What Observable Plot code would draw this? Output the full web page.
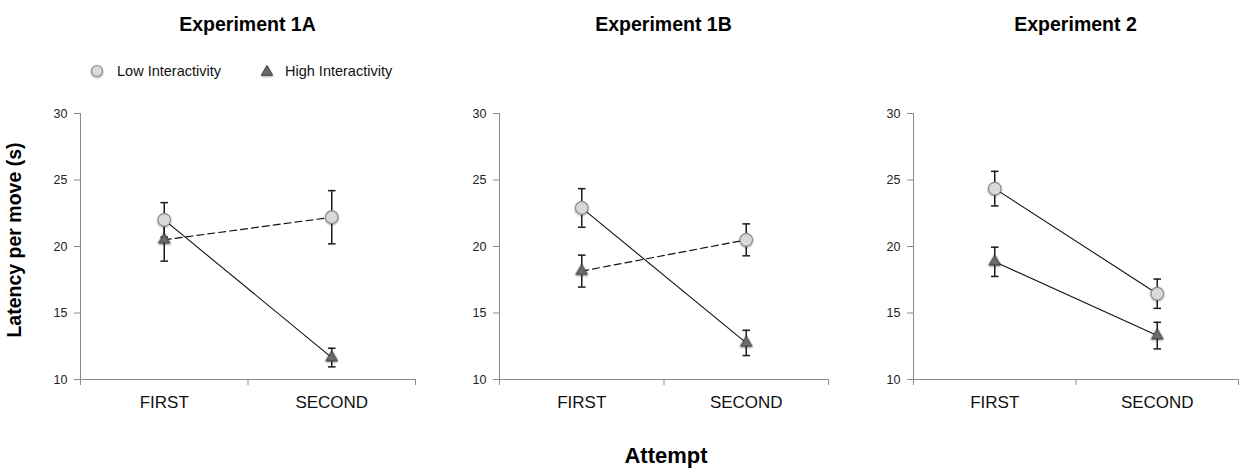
<!DOCTYPE html>
<html>
<head>
<meta charset="utf-8">
<script src="https://cdn.jsdelivr.net/npm/d3@7"></script>
<script src="https://cdn.jsdelivr.net/npm/@observablehq/plot@0.6"></script>
<style>
  body { margin: 0; background: #fff; font-family: "Liberation Sans", Arial, sans-serif; }
  #wrap { position: relative; width: 1239px; height: 470px; overflow: hidden; }
  .panel { position: absolute; top: 0; }
  .title { position: absolute; top: 14px; font-weight: bold; font-size: 19.5px; line-height: 20px;
           transform: translateX(-50%); white-space: nowrap; color: #000; }
  .ylab { position: absolute; left: 14px; top: 240px; font-weight: bold; font-size: 19.5px; line-height: 20px;
          transform: translate(-50%, -50%) rotate(-90deg); white-space: nowrap; }
  .xlab { position: absolute; left: 666px; top: 445px; font-weight: bold; font-size: 22px; line-height: 22px;
          transform: translateX(-50%); white-space: nowrap; }
  .leg { position: absolute; top: 63px; font-size: 14.5px; line-height: 16px; white-space: nowrap; color: #111; }
  .legicon { position: absolute; top: 62px; overflow: visible; }
</style>
</head>
<body>
<div id="wrap"></div>
<script>
// ---- data ----
const categories = ["FIRST", "SECOND"];
const experiments = ["Experiment 1A", "Experiment 1B", "Experiment 2"];
const groups = ["Low Interactivity", "High Interactivity"];
// means and error-bar half-lengths, [experiment][attempt]
const lowMean  = [[22.0, 22.2], [22.9, 20.5], [24.35, 16.45]];
const lowErr   = [[1.3, 2.0],   [1.45, 1.2],  [1.3, 1.1]];
const highMean = [[20.5, 11.65], [18.15, 12.75], [18.85, 13.3]];
const highErr  = [[1.6, 0.7],    [1.2, 0.95],    [1.1, 1.0]];
const yTicks = [10, 15, 20, 25, 30];
// connecting lines per experiment: [group at FIRST, group at SECOND, dashed?]
const connections = [
  [["Low", "High", false], ["High", "Low", true]],
  [["Low", "High", false], ["High", "Low", true]],
  [["Low", "Low", false], ["High", "High", false]]
];

// ---- layout ----
const layout = [
  {left: 0,   width: 420, ml: 80, mr: 5},
  {left: 420, width: 410, ml: 79, mr: 2},
  {left: 830, width: 409, ml: 83, mr: 1}
];
const AXIS = "#8a8a8a";
const capSymbol = { draw(ctx, size) { const w = 3.8; ctx.moveTo(-w, 0); ctx.lineTo(w, 0); } };
const triSymbol = { draw(ctx, size) {
  const s = Math.sqrt(size / Math.PI); const h = s * Math.sqrt(3);
  ctx.moveTo(0, -h * 2 / 3); ctx.lineTo(s, h / 3); ctx.lineTo(-s, h / 3); ctx.closePath(); } };

const wrap = document.getElementById("wrap");

experiments.forEach((name, p) => {
  const L = layout[p];
  const means = {Low: lowMean[p], High: highMean[p]};
  const errs = {Low: lowErr[p], High: highErr[p]};
  const rows = [];
  categories.forEach((c, i) => {
    ["Low", "High"].forEach(g => rows.push({group: g, cat: c, x: i + 0.5, y: means[g][i], e: errs[g][i]}));
  });
  const lineRows = [];
  connections[p].forEach(([g1, g2, dashed], k) => {
    lineRows.push({k, dashed, x: 0.5, y: means[g1][0]});
    lineRows.push({k, dashed, x: 1.5, y: means[g2][1]});
  });

  const chart = Plot.plot({
    width: L.width, height: 470,
    marginTop: 113, marginBottom: 91, marginLeft: L.ml, marginRight: L.mr,
    x: {domain: [0, 2]},
    y: {domain: [10, 30]},
    style: {fontFamily: '"Liberation Sans", Arial, sans-serif', fontSize: "12.5px", color: "#222", background: "transparent", overflow: "visible"},
    marks: [
      Plot.ruleX([0], {y1: 10, y2: 30, stroke: AXIS}),
      Plot.ruleY([10], {stroke: AXIS}),
      Plot.axisY({ticks: yTicks, tickSize: 6, tickPadding: 7, stroke: AXIS, fill: "#222", fontSize: 12.5, label: null}),
      Plot.axisX({ticks: [0, 1, 2], tickSize: 6, tickFormat: () => "", stroke: AXIS, label: null}),
      Plot.axisX({ticks: [0.5, 1.5], tickSize: 0, tickPadding: 16, tickFormat: d => categories[Math.floor(d)],
                  fontSize: 17, fill: "#111", label: null}),
      Plot.line(lineRows.filter(d => !d.dashed), {x: "x", y: "y", z: "k", stroke: "#111", strokeWidth: 1.1}),
      Plot.line(lineRows.filter(d => d.dashed), {x: "x", y: "y", z: "k", stroke: "#111", strokeWidth: 1.2, strokeDasharray: "7,4"}),
      Plot.ruleX(rows, {x: "x", y1: d => d.y - d.e, y2: d => d.y + d.e, stroke: "#1a1a1a", strokeWidth: 1.5}),
      Plot.dot(rows, {x: "x", y: d => d.y + d.e, symbol: capSymbol, r: 4, fill: "none", stroke: "#1a1a1a", strokeWidth: 1.5}),
      Plot.dot(rows, {x: "x", y: d => d.y - d.e, symbol: capSymbol, r: 4, fill: "none", stroke: "#1a1a1a", strokeWidth: 1.5}),
      Plot.dot(rows.filter(d => d.group === "Low"), {x: "x", y: "y", r: 6.3, fill: "#d9d9d9", stroke: "#8c8c8c", strokeWidth: 1.2}),
      Plot.dot(rows.filter(d => d.group === "High"), {x: "x", y: "y", symbol: triSymbol, r: 5.8, fill: "#6b6b6b", stroke: "#3a3a3a", strokeWidth: 1})
    ]
  });
  chart.classList.add("panel");
  chart.style.left = L.left + "px";
  chart.querySelectorAll('g[fill="#d9d9d9"], g[fill="#6b6b6b"]').forEach(g => {
    g.style.filter = "drop-shadow(0.5px 1.5px 1.2px rgba(0,0,0,0.35))";
  });
  wrap.appendChild(chart);

  const t = document.createElement("div");
  t.className = "title";
  t.textContent = name;
  t.style.left = (L.left + L.ml + (L.width - L.ml - L.mr) / 2) + "px";
  wrap.appendChild(t);
});

// axis titles
const yl = document.createElement("div"); yl.className = "ylab"; yl.textContent = "Latency per move (s)"; wrap.appendChild(yl);
const xl = document.createElement("div"); xl.className = "xlab"; xl.textContent = "Attempt"; wrap.appendChild(xl);

// legend
const ns = "http://www.w3.org/2000/svg";
function icon(x, draw) {
  const s = document.createElementNS(ns, "svg");
  s.setAttribute("width", 20); s.setAttribute("height", 20);
  s.setAttribute("class", "legicon");
  s.style.left = (x - 10) + "px";
  s.style.filter = "drop-shadow(0.5px 1.5px 1.2px rgba(0,0,0,0.35))";
  s.innerHTML = draw;
  wrap.appendChild(s);
}
icon(97, '<circle cx="10" cy="9" r="5.5" fill="#d9d9d9" stroke="#8c8c8c" stroke-width="1.2"/>');
icon(267, '<path d="M10,3.5 L15.6,13.2 L4.4,13.2 Z" fill="#6b6b6b" stroke="#3a3a3a"/>');
[[groups[0], 117], [groups[1], 285]].forEach(([txt, x]) => {
  const d = document.createElement("div"); d.className = "leg"; d.textContent = txt; d.style.left = x + "px"; wrap.appendChild(d);
});
</script>
</body>
</html>
